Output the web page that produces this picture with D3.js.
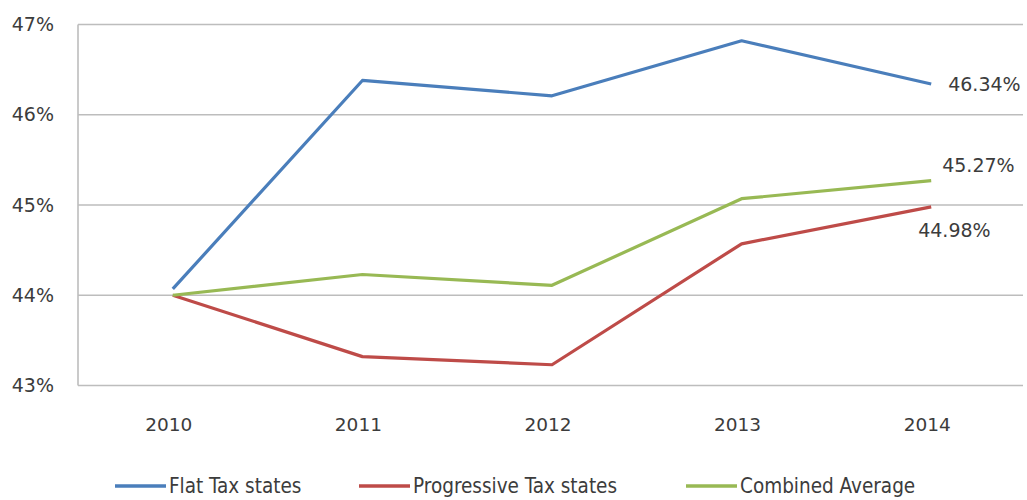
<!DOCTYPE html>
<html>
<head>
<meta charset="utf-8">
<script src="https://cdn.jsdelivr.net/npm/d3@7"></script>
<style>
  body { margin: 0; background: #fff; }
  svg text { font-family: "DejaVu Sans", sans-serif; fill: #3c3c3c; }
  svg text.legend-label { font-family: "DejaVu Sans Condensed", "DejaVu Sans", sans-serif; font-stretch: condensed; }
</style>
</head>
<body>
<div id="chart"></div>
<script>
var years = ["2010", "2011", "2012", "2013", "2014"];
var flatTax = [44.07, 46.38, 46.21, 46.82, 46.34];
var progressiveTax = [44.0, 43.32, 43.23, 44.57, 44.98];
var combinedAvg = [44.0, 44.23, 44.11, 45.07, 45.27];
var yTicks = [43, 44, 45, 46, 47];
var seriesNames = ["Flat Tax states", "Progressive Tax states", "Combined Average"];
var endLabels = ["46.34%", "44.98%", "45.27%"];

var colors = ["#4A7EBB", "#BE4B48", "#98B954"];

var width = 1027, height = 500;
var margin = {top: 24.5, right: 1, bottom: 114.5, left: 78};

var svg = d3.select("#chart").append("svg")
    .attr("width", width)
    .attr("height", height);

var x = d3.scalePoint()
    .domain(years)
    .range([margin.left, width - margin.right])
    .padding(0.5);

var y = d3.scaleLinear()
    .domain([43, 47])
    .range([height - margin.bottom, margin.top]);

// gridlines
svg.append("g")
    .selectAll("line")
    .data(yTicks)
    .enter().append("line")
    .attr("x1", margin.left)
    .attr("x2", 1023)
    .attr("y1", function(d) { return y(d); })
    .attr("y2", function(d) { return y(d); })
    .attr("stroke", "#BDBDBD")
    .attr("stroke-width", 1.6);

// left axis line
svg.append("line")
    .attr("x1", margin.left).attr("x2", margin.left)
    .attr("y1", y(47)).attr("y2", y(43))
    .attr("stroke", "#BDBDBD")
    .attr("stroke-width", 1.6);

// y tick labels
svg.append("g")
    .selectAll("text")
    .data(yTicks)
    .enter().append("text")
    .attr("x", 54)
    .attr("y", function(d) { return y(d); })
    .attr("dy", "0.35em")
    .attr("text-anchor", "end")
    .style("font-size", "19px")
    .text(function(d) { return d + "%"; });

// x tick labels
svg.append("g")
    .selectAll("text")
    .data(years)
    .enter().append("text")
    .attr("x", function(d) { return x(d) - 4; })
    .attr("y", 425)
    .attr("dy", "0.35em")
    .attr("text-anchor", "middle")
    .style("font-size", "18.5px")
    .text(function(d) { return d; });

var allSeries = [flatTax, progressiveTax, combinedAvg];

var line = d3.line()
    .x(function(d, i) { return x(years[i]); })
    .y(function(d) { return y(d); });

svg.append("g")
    .selectAll("path")
    .data(allSeries)
    .enter().append("path")
    .attr("d", function(d) { return line(d); })
    .attr("fill", "none")
    .attr("stroke", function(d, i) { return colors[i]; })
    .attr("stroke-width", 3.2)
    .attr("stroke-linejoin", "round");

// end labels
var labelOffsets = [[17, 0], [-13, 24], [11, -15]];
svg.append("g")
    .selectAll("text")
    .data(allSeries)
    .enter().append("text")
    .attr("x", function(d, i) { return x(years[4]) + labelOffsets[i][0]; })
    .attr("y", function(d, i) { return y(d[4]) + labelOffsets[i][1]; })
    .attr("dy", "0.35em")
    .style("font-size", "19px")
    .text(function(d, i) { return endLabels[i]; });

// legend
var legendX = [115, 359, 686];
var legend = svg.append("g")
    .selectAll("g")
    .data(seriesNames)
    .enter().append("g")
    .attr("transform", function(d, i) { return "translate(" + legendX[i] + ",486)"; });

legend.append("line")
    .attr("x1", 0).attr("x2", 51)
    .attr("y1", 0).attr("y2", 0)
    .attr("stroke", function(d, i) { return colors[i]; })
    .attr("stroke-width", 3.4);

legend.append("text")
    .attr("class", "legend-label")
    .attr("x", 54)
    .attr("y", 0)
    .attr("dy", "0.35em")
    .style("font-size", "20.5px")
    .text(function(d) { return d; });
</script>
</body>
</html>
